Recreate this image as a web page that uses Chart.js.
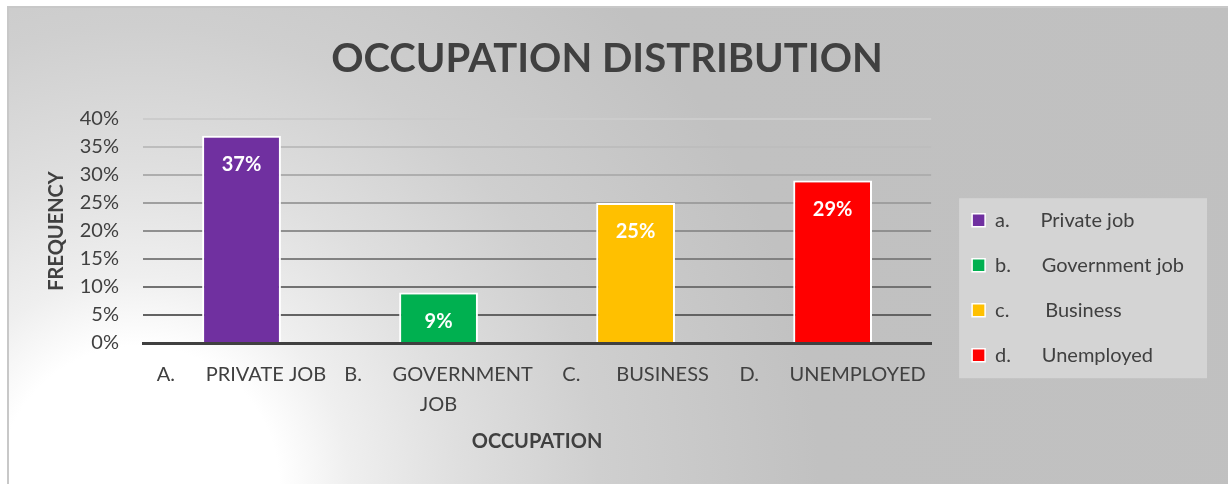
<!DOCTYPE html>
<html>
<head>
<meta charset="utf-8">
<script src="https://cdn.jsdelivr.net/npm/chart.js@4.4.1/dist/chart.umd.min.js"></script>
<style>
  body { margin: 0; background: #ffffff; overflow: hidden; }
  #frame {
    position: absolute; left: 7px; top: 6px; width: 1260px; height: 500px;
    border: 2px solid #c8c8c8;
    background: radial-gradient(circle at 130px 478px, #ffffff 0px, #ffffff 140px, #efefef 210px,
      #dfdfdf 320px, #cfcfcf 460px, #c1c1c1 680px, #c0c0c0 100%);
  }
  #myChart { position: absolute; left: 0; top: 0; }
</style>
</head>
<body>
<div id="frame"></div>
<canvas id="myChart" width="1228" height="484"></canvas>
<script>
const chartTitle = "OCCUPATION DISTRIBUTION";
const xTitle = "OCCUPATION";
const yTitle = "FREQUENCY";
const categories = [
  "A.      PRIVATE JOB",
  ["B.      GOVERNMENT", "JOB"],
  "C.       BUSINESS",
  "D.      UNEMPLOYED",
];
const legendLabels = [
  "a.      Private job",
  "b.      Government job",
  "c.       Business",
  "d.      Unemployed",
];
const shares = [37, 9, 25, 29];
const barColors = ["#7030a0", "#00b050", "#ffc000", "#ff0000"];
const yTicks = [0, 5, 10, 15, 20, 25, 30, 35, 40];

const textColor = "#404040";
const fontSize = 20;

// gridlines get darker toward the axis, like the original
const gridColor = (ctx) => {
  const v = ctx.tick.value;
  if (v === 0) return "rgba(0,0,0,0)";
  const g = Math.round(84 + v * 3);
  return `rgb(${g},${g},${g})`;
};

const legendBox = {
  id: "legendBox",
  beforeDraw: (chart) => {
    const boxes = chart.legend.legendHitBoxes;
    if (!boxes || !boxes.length) return;
    const first = boxes[0];
    const last = boxes[boxes.length - 1];
    const w = Math.max(...boxes.map((b) => b.width));
    const ctx = chart.ctx;
    ctx.save();
    ctx.fillStyle = "#d4d4d4";
    ctx.fillRect(first.left - 13, first.top - 12, w + 36, last.top + last.height - first.top + 25);
    ctx.restore();
  },
};

const barLabels = {
  id: "barLabels",
  afterDatasetsDraw: (chart) => {
    const ctx = chart.ctx;
    ctx.save();
    ctx.fillStyle = "#ffffff";
    ctx.font = `bold ${fontSize}px Lato`;
    ctx.textAlign = "center";
    ctx.textBaseline = "middle";
    chart.getDatasetMeta(0).data.forEach((bar, i) => {
      ctx.fillText(shares[i] + "%", bar.x, bar.y + 29);
    });
    ctx.restore();
  },
};

Chart.defaults.font.family = "Lato";
Chart.defaults.font.size = fontSize;
Chart.defaults.color = textColor;

const config = {
  type: "bar",
  data: {
    labels: categories,
    datasets: [
      {
        label: yTitle,
        data: shares,
        backgroundColor: barColors,
        borderColor: "#ffffff",
        borderWidth: 2,
        barPercentage: 0.4,
        categoryPercentage: 1,
      },
    ],
  },
  options: {
    responsive: false,
    animation: false,
    devicePixelRatio: 1,
    layout: { padding: { left: 20, right: 34, top: 0, bottom: 20 } },
    plugins: {
      title: {
        display: true,
        text: chartTitle,
        color: textColor,
        font: { size: 40, weight: "bold" },
        padding: { top: 35, bottom: 36 },
      },
      legend: {
        position: "right",
        align: "center",
        maxWidth: 280,
        title: { display: true, text: "", font: { size: 12 }, padding: { top: 97, bottom: 0 } },
        labels: {
          boxWidth: 13,
          boxHeight: 13,
          padding: 25,
          color: textColor,
          generateLabels: () =>
            legendLabels.map((t, i) => ({
              text: t,
              fillStyle: barColors[i],
              strokeStyle: "#ffffff",
              lineWidth: 1.5,
              fontColor: textColor,
              hidden: false,
              index: i,
            })),
        },
      },
      tooltip: { enabled: false },
    },
    scales: {
      x: {
        ticks: { padding: 17, color: textColor, font: { lineHeight: 1.5 }, maxRotation: 0, autoSkip: false },
        grid: { display: false, drawTicks: false },
        border: { display: true, color: "#404040", width: 3 },
        title: {
          display: true,
          text: xTitle,
          color: textColor,
          font: { weight: "bold" },
          padding: { top: 0, bottom: 10 },
        },
        afterFit: (s) => {
          s.height = 121;
        },
      },
      y: {
        min: yTicks[0],
        max: yTicks[yTicks.length - 1],
        afterBuildTicks: (s) => {
          s.ticks = yTicks.map((v) => ({ value: v }));
        },
        ticks: { padding: 24, color: textColor, autoSkip: false, callback: (v) => v + "%" },
        grid: { color: gridColor, lineWidth: 2, drawTicks: false },
        border: { display: false },
        title: {
          display: true,
          text: yTitle,
          color: textColor,
          font: { weight: "bold" },
          padding: { top: 25, bottom: 0 },
        },
        afterFit: (s) => {
          s.width = 123;
        },
      },
      gap: {
        type: "linear",
        axis: "y",
        position: "right",
        grid: { display: false },
        border: { display: false },
        ticks: { display: false },
        afterFit: (s) => {
          s.width = 16;
        },
      },
    },
  },
  plugins: [legendBox, barLabels],
};

const myChart = new Chart(document.getElementById("myChart"), config);
</script>
</body>
</html>
